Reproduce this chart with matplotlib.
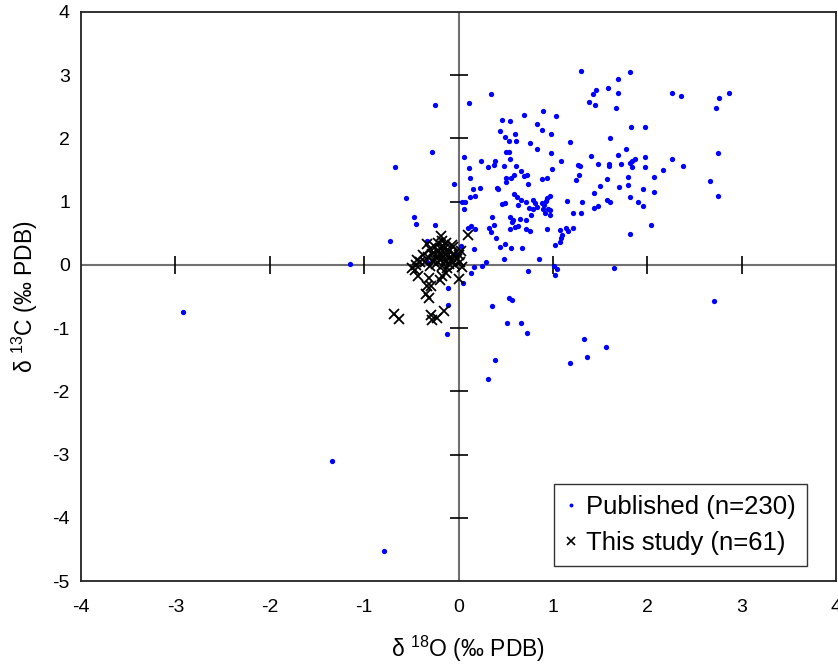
import matplotlib
matplotlib.use("Agg")
import matplotlib.pyplot as plt
from matplotlib.lines import Line2D

plt.rcParams['font.family'] = ['Liberation Sans', 'DejaVu Sans']
plt.rcParams['mathtext.fontset'] = 'custom'
plt.rcParams['mathtext.rm'] = 'Liberation Sans'
plt.rcParams['axes.unicode_minus'] = False

# Published data (delta 18O, delta 13C)
pub_d18O = [
    -2.92, -1.34, -0.79, -1.15, -0.73, -0.67, -0.56, -0.47, -0.45, -0.25,
    -0.28, -0.25, -0.33, -0.33, -0.04, -0.05, -0.12, -0.11, -0.11, 0.05,
    0.11, 0.06, 0.11, 0.12, 0.12, 0.04, 0.07, 0.06, 0.10, 0.13,
    0.17, 0.03, 0.16, 0.29, 0.25, 0.16, 0.13, 0.32, 0.34, 0.38,
    0.35, 0.40, 0.44, 0.49, 0.56, 0.67, 0.48, 0.85, 0.74, 0.36,
    0.53, 0.57, 0.51, 0.66, 0.73, 0.39, 0.31, 1.01, 1.04, 1.02,
    1.65, 1.33, 1.56, 1.36, 1.18, 1.82, 2.04, 2.71, 0.34, 1.30,
    1.82, 1.69, 1.58, 1.69, 1.46, 1.42, 1.38, 1.45, 1.67, 2.26,
    2.36, 2.76, 2.87, 2.73, 0.69, 0.90, 1.03, 0.46, 0.55, 0.83,
    0.44, 0.89, 0.60, 0.49, 0.98, 1.83, 1.98, 1.61, 0.54, 0.61,
    0.76, 1.18, 0.83, 0.50, 0.53, 0.98, 1.40, 1.77, 1.69, 0.55,
    0.24, 0.39, 0.38, 0.31, 0.48, 0.61, 0.66, 0.99, 1.09, 1.27,
    1.29, 1.48, 1.59, 1.59, 1.72, 1.82, 1.84, 1.87, 1.84, 1.98,
    2.26, 2.38, 1.98, 2.17, 2.07, 2.66, 2.75, 0.59, 0.56, 0.69,
    0.73, 0.50, 0.50, 0.89, 0.94, 0.74, 1.28, 1.25, 1.57, 1.80,
    0.41, 0.42, 0.15, 0.23, 0.17, 0.59, 0.62, 0.66, 0.97, 1.50,
    1.70, 1.80, 1.95, 2.07, 1.44, 2.75, 0.46, 0.49, 0.63, 0.72,
    0.79, 0.81, 0.75, 0.79, 0.83, 0.89, 0.91, 0.90, 0.95, 0.97,
    0.92, 0.97, 0.94, 0.93, 1.15, 1.31, 1.57, 1.60, 1.48, 1.44,
    1.82, 1.90, 1.95, 1.21, 1.30, 0.77, 0.55, 0.58, 0.57, 0.65,
    0.71, 0.63, 0.60, 0.55, 0.72, 0.76, 0.94, 1.08, 1.14, 1.16,
    1.21, 1.10, 1.09, 1.08, 1.02,
]
pub_d13C = [
    -0.74, -3.10, -4.52, 0.02, 0.38, 1.55, 1.06, 0.76, 0.65, 0.63,
    1.79, 2.53, 0.38, 0.05, 0.17, 1.28, -1.09, -0.63, -0.36, -0.28,
    2.56, 1.71, 1.53, 1.38, 1.08, 1.00, 1.00, 0.89, 0.59, 0.62,
    0.57, 0.30, 0.25, 0.05, -0.02, -0.03, -0.13, 0.59, 0.52, 0.63,
    0.76, 0.43, 0.28, 0.33, 0.27, 0.27, 0.09, 0.09, -0.09, -0.65,
    -0.52, -0.55, -0.92, -0.92, -1.08, -1.50, -1.80, -0.02, -0.06, -0.16,
    -0.05, -1.17, -1.30, -1.46, -1.55, 0.49, 0.63, -0.57, 2.71, 3.07,
    3.05, 2.94, 2.80, 2.72, 2.77, 2.71, 2.58, 2.53, 2.48, 2.72,
    2.67, 2.64, 2.72, 2.48, 2.37, 2.44, 2.36, 2.29, 2.28, 2.23,
    2.12, 2.14, 2.07, 2.02, 2.07, 2.18, 2.18, 2.01, 1.96, 1.96,
    1.93, 1.95, 1.84, 1.79, 1.79, 1.77, 1.72, 1.84, 1.74, 1.68,
    1.65, 1.65, 1.58, 1.55, 1.57, 1.57, 1.49, 1.52, 1.65, 1.58,
    1.57, 1.60, 1.60, 1.57, 1.60, 1.61, 1.65, 1.68, 1.55, 1.71,
    1.68, 1.57, 1.55, 1.50, 1.39, 1.33, 1.77, 1.42, 1.38, 1.41,
    1.42, 1.38, 1.31, 1.36, 1.38, 1.28, 1.42, 1.34, 1.36, 1.39,
    1.22, 1.20, 1.20, 1.22, 1.09, 1.12, 1.08, 1.03, 1.09, 1.25,
    1.23, 1.27, 1.20, 1.15, 1.14, 1.09, 0.97, 0.98, 0.95, 1.00,
    1.03, 0.98, 0.90, 0.89, 0.92, 0.98, 0.95, 0.89, 0.89, 0.87,
    0.82, 0.79, 1.06, 1.01, 1.01, 1.00, 1.03, 1.00, 0.93, 0.90,
    1.08, 1.00, 0.93, 0.82, 0.82, 0.79, 0.76, 0.71, 0.68, 0.73,
    0.71, 0.62, 0.60, 0.57, 0.57, 0.54, 0.57, 0.55, 0.59, 0.54,
    0.59, 0.47, 0.43, 0.36, 0.32,
]

# This study
study_d18O = [
    0.10, -0.19, -0.33, -0.22, -0.17, -0.13, -0.07, 0.03, -0.44, -0.41,
    -0.49, -0.46, -0.43, -0.31, -0.33, -0.29, -0.20, -0.17, -0.13, 0.00,
    -0.34, -0.31, -0.68, -0.63, -0.29, -0.28, -0.23, -0.15,
    -0.30, -0.25, -0.20, -0.15, -0.10, -0.05, -0.28, -0.22, -0.18, -0.12,
    -0.08, -0.02, -0.32, -0.26, -0.20, -0.14, -0.10, -0.04, 0.02, -0.35,
    -0.24, -0.18, -0.30, -0.38, -0.16, -0.06, 0.00, -0.12, -0.22, -0.27,
    -0.08, 0.04, -0.45,
]
study_d13C = [
    0.47, 0.46, 0.33, 0.35, 0.38, 0.35, 0.32, 0.22, 0.08, 0.05,
    -0.05, -0.08, -0.17, -0.21, -0.33, -0.33, -0.24, -0.17, -0.13, -0.22,
    -0.46, -0.52, -0.78, -0.85, -0.79, -0.87, -0.84, -0.73,
    0.25, 0.28, 0.27, 0.25, 0.22, 0.18, 0.18, 0.20, 0.15, 0.14,
    0.12, 0.10, 0.12, 0.10, 0.08, 0.06, 0.02, 0.00, 0.05, 0.05,
    0.02, -0.02, -0.02, 0.15, 0.30, 0.28, 0.15, -0.05, 0.12, 0.06,
    0.07, -0.03, 0.00,
]

x_ticks = [-4, -3, -2, -1, 0, 1, 2, 3, 4]
y_ticks = [-5, -4, -3, -2, -1, 0, 1, 2, 3, 4]
cross_x_ticks = [-3, -2, -1, 1, 2, 3]
cross_y_ticks = [-4, -3, -2, -1, 1, 2, 3]

fig = plt.figure(figsize=(8.38, 6.66), dpi=100)
ax = fig.add_axes([81/838, 1 - 581/666, 755/838, 569/666])
ax.set_xlim(-4, 4)
ax.set_ylim(-5, 4)

# crosshair axes through origin
ax.axhline(0, color='#707070', lw=1.5, zorder=1)
ax.axvline(0, color='#707070', lw=1.5, zorder=1)
ax.plot(cross_x_ticks, [0]*len(cross_x_ticks), ls='none', marker='|',
        ms=13, mew=1.2, color='black', zorder=1)
ax.plot([0]*len(cross_y_ticks), cross_y_ticks, ls='none', marker='_',
        ms=13, mew=1.2, color='black', zorder=1)

ax.plot(pub_d18O, pub_d13C, ls='none', marker='o', ms=3.8, mew=0,
        color='#0000FF', zorder=2)
ax.plot(study_d18O, study_d13C, ls='none', marker='x', ms=7, mew=1.3,
        color='black', zorder=3)

ax.set_xticks(x_ticks)
ax.set_yticks(y_ticks)
ax.tick_params(length=0, labelsize=14, colors='black')
ax.tick_params(axis='x', pad=13)
ax.tick_params(axis='y', pad=8)
for sp in ax.spines.values():
    sp.set_linewidth(1.3)
    sp.set_color('#222222')

ax.set_xlabel('δ $^{18}$O (‰ PDB)', fontsize=16.5)
ax.xaxis.set_label_coords(0.513, -0.093)
ax.set_ylabel('δ $^{13}$C (‰ PDB)', fontsize=16.5, labelpad=9)

h1 = Line2D([], [], ls='none', marker='o', ms=2.8, mew=0, color='#0000FF')
h2 = Line2D([], [], ls='none', marker='x', ms=5.5, mew=1.2, color='black')
leg = ax.legend([h1, h2], ['Published (n=230)', 'This study (n=61)'],
                loc='lower right', bbox_to_anchor=(0.9616, 0.026),
                borderaxespad=0, fontsize=18.5, frameon=True, fancybox=False,
                edgecolor='black', handlelength=0.5, handletextpad=0.35,
                labelspacing=0.5, borderpad=0.42)
leg.get_frame().set_linewidth(1.0)

fig.savefig('out.png', dpi=100)
